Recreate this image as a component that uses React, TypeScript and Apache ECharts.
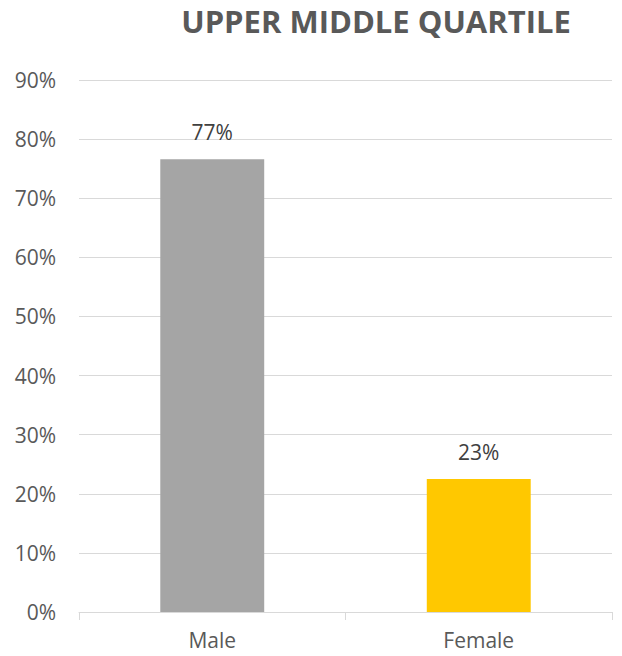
import React, { useEffect, useRef } from "react";
import * as echarts from "echarts";

const titleText = "UPPER MIDDLE QUARTILE";
const categories = ["Male", "Female"];
const values = [0.766, 0.225];
const barColors = ["#a5a5a5", "#ffc800"];
const yTicksMax = 0.9;
const yInterval = 0.1;

export default function App() {
  const ref = useRef<HTMLDivElement>(null);
  useEffect(() => {
    if (!ref.current) return;
    const chart = echarts.init(ref.current, undefined, { renderer: "svg" });
    const font = "'Open Sans', 'Noto Sans', sans-serif";
    chart.setOption({
      animation: false,
      title: {
        text: titleText,
        left: 371,
        textAlign: "center",
        top: 0,
        textStyle: { fontFamily: font, fontSize: 31, fontWeight: "bold", color: "#595959" },
      },
      grid: { left: 79, right: 10, top: 80, bottom: 44, containLabel: false },
      xAxis: {
        type: "category",
        data: categories,
        axisLine: { lineStyle: { color: "#d9d9d9", width: 1 } },
        axisTick: { show: true, length: 8, lineStyle: { color: "#d9d9d9" } },
        axisLabel: { fontFamily: font, fontSize: 21, color: "#595959", margin: 17 },
      },
      yAxis: {
        type: "value",
        min: 0,
        max: yTicksMax,
        interval: yInterval,
        axisLine: { show: false },
        axisTick: { show: false },
        splitLine: { lineStyle: { color: "#d9d9d9", width: 1 } },
        axisLabel: {
          fontFamily: font,
          fontSize: 21,
          color: "#595959",
          margin: 23,
          formatter: (v: number) => Math.round(v * 100) + "%",
        },
      },
      series: [
        {
          type: "bar",
          data: values.map((v, i) => ({ value: v, itemStyle: { color: barColors[i] } })),
          barWidth: "39%",
          label: {
            show: true,
            position: "top",
            distance: 17,
            fontFamily: font,
            fontSize: 21,
            color: "#404040",
            formatter: (p: any) => Math.round(p.value * 100) + "%",
          },
        },
      ],
    });
    return () => chart.dispose();
  }, []);
  return <div ref={ref} style={{ width: 622, height: 656, margin: -8 }} />;
}
